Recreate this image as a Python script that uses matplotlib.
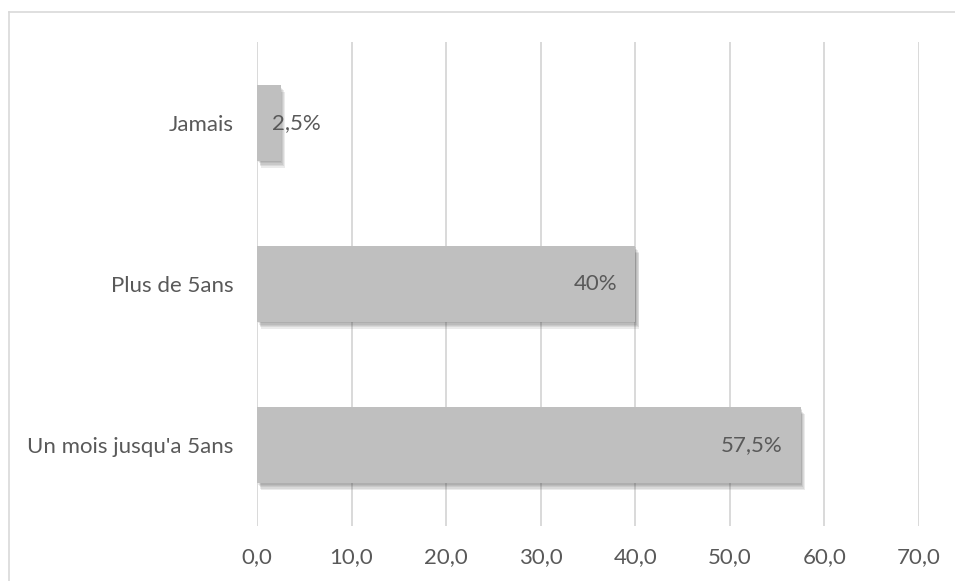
import matplotlib.pyplot as plt
import matplotlib.patheffects as pe
from matplotlib.lines import Line2D

# data
categories = ["Un mois jusqu'a 5ans", "Plus de 5ans", "Jamais"]
values = [57.5, 40.0, 2.5]
value_labels = ["57,5%", "40%", "2,5%"]
xticks = [0, 10, 20, 30, 40, 50, 60, 70]
xtick_labels = ["0,0", "10,0", "20,0", "30,0", "40,0", "50,0", "60,0", "70,0"]

TEXT = "#595959"
GRID = "#D9D9D9"
BAR = "#BFBFBF"
FS = 16

plt.rcParams["font.family"] = ["Lato", "DejaVu Sans"]

fig = plt.figure(figsize=(9.55, 5.81), dpi=100)
ax = fig.add_axes([257 / 955, 1 - 526 / 581, (919 - 257) / 955, (526 - 42) / 581])

y = range(len(categories))
bars = ax.barh(y, values, height=0.47, color=BAR, zorder=3)

# soft drop shadow: a few faint offset copies underneath each bar
shadow = [pe.SimplePatchShadow(offset=(d * 0.6, -d), shadow_rgbFace="#404040", alpha=0.1)
          for d in (5, 4, 3, 2, 1)]
for b in bars:
    b.set_path_effects(shadow + [pe.Normal()])

# value labels at the inside end of each bar (small bar: label spills past the end)
for yi, v, lab in zip(y, values, value_labels):
    if v > 10:
        ax.annotate(lab, (v, yi), xytext=(-18, 0), textcoords="offset pixels",
                    ha="right", va="center", fontsize=FS, color=TEXT, zorder=4)
    else:
        ax.annotate(lab, (v, yi), xytext=(-9, 0), textcoords="offset pixels",
                    ha="left", va="center", fontsize=FS, color=TEXT, zorder=4)

ax.set_xlim(0, 70)
ax.set_ylim(-0.5, len(categories) - 0.5)
ax.set_xticks(xticks)
ax.set_xticklabels(xtick_labels)
ax.set_yticks(list(y))
ax.set_yticklabels(categories)
ax.tick_params(axis="x", length=0, pad=15, labelsize=FS, labelcolor=TEXT)
ax.tick_params(axis="y", length=0, pad=17, labelsize=FS, labelcolor=TEXT)
ax.grid(axis="x", color=GRID, linewidth=1.4, zorder=0)
for s in ax.spines.values():
    s.set_visible(False)

# chart frame (runs off the right and bottom of the image)
fig.add_artist(Line2D([9 / 955, 9 / 955], [0, 1 - 12 / 581], color=GRID, linewidth=1.2))
fig.add_artist(Line2D([9 / 955, 1], [1 - 12 / 581, 1 - 12 / 581], color=GRID, linewidth=1.2))

fig.savefig("out.png", dpi=100)
